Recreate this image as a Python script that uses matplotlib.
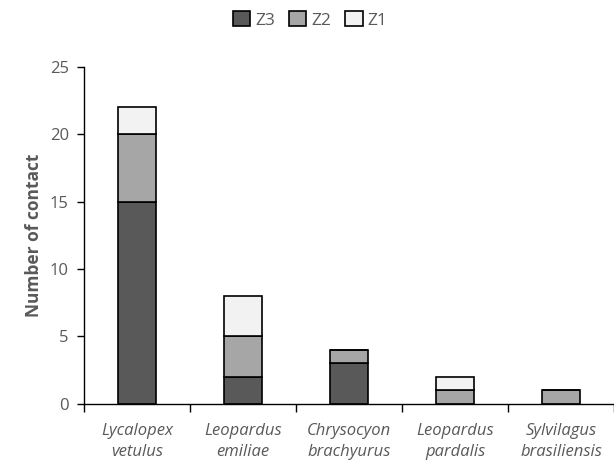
import numpy as np
import matplotlib.pyplot as plt
from matplotlib.patches import Patch

species = ['Lycalopex\nvetulus', 'Leopardus\nemiliae', 'Chrysocyon\nbrachyurus',
           'Leopardus\npardalis', 'Sylvilagus\nbrasiliensis']
z3 = [15, 2, 3, 0, 0]
z2 = [5, 3, 1, 1, 1]
z1 = [2, 3, 0, 1, 0]

colors = {'Z3': '#595959', 'Z2': '#a6a6a6', 'Z1': '#f2f2f2'}
text_color = '#595959'

plt.rcParams['font.family'] = ['Open Sans', 'DejaVu Sans']

fig = plt.figure(figsize=(6.14, 4.68), dpi=100)
ax = fig.add_axes([0.137, 0.137, 0.863, 0.72])

x = np.arange(len(species))
w = 0.36
z3 = np.array(z3)
z2 = np.array(z2)
z1 = np.array(z1)

ax.bar(x, z3, w, color=colors['Z3'], edgecolor='black', linewidth=1.2)
ax.bar(x, z2, w, bottom=z3, color=colors['Z2'], edgecolor='black', linewidth=1.2)
ax.bar(x, z1, w, bottom=z3 + z2, color=colors['Z1'], edgecolor='black', linewidth=1.2)

ax.set_xlim(-0.5, len(species) - 0.5)
ax.set_ylim(0, 25)
ax.set_yticks(range(0, 26, 5))

# category labels centred, ticks between categories
ax.set_xticks(x)
ax.set_xticklabels(species, style='italic', fontsize=12, color=text_color, linespacing=1.4)
ax.tick_params(axis='x', length=0, pad=14)
ax.set_xticks(np.arange(-0.5, len(species)), minor=True)
ax.tick_params(axis='x', which='minor', length=6, width=1, direction='out')
ax.tick_params(axis='y', length=5, width=1, direction='out', labelsize=12, labelcolor=text_color, pad=6)

for s in ['top', 'right']:
    ax.spines[s].set_visible(False)
ax.spines['left'].set_linewidth(1)
ax.spines['bottom'].set_linewidth(1)

ax.set_ylabel('Number of contact', fontsize=12.5, fontweight='bold', color=text_color, labelpad=5)

handles = [Patch(facecolor=colors[k], edgecolor='black', linewidth=1.2, label=k) for k in ['Z3', 'Z2', 'Z1']]
fig.legend(handles=handles, loc='upper center', bbox_to_anchor=(0.505, 1.01), ncol=3, frameon=False,
           fontsize=12.5, labelcolor=text_color, handlelength=1.0, handleheight=1.0,
           handletextpad=0.3, columnspacing=0.8)

fig.savefig('out.png', dpi=100)
